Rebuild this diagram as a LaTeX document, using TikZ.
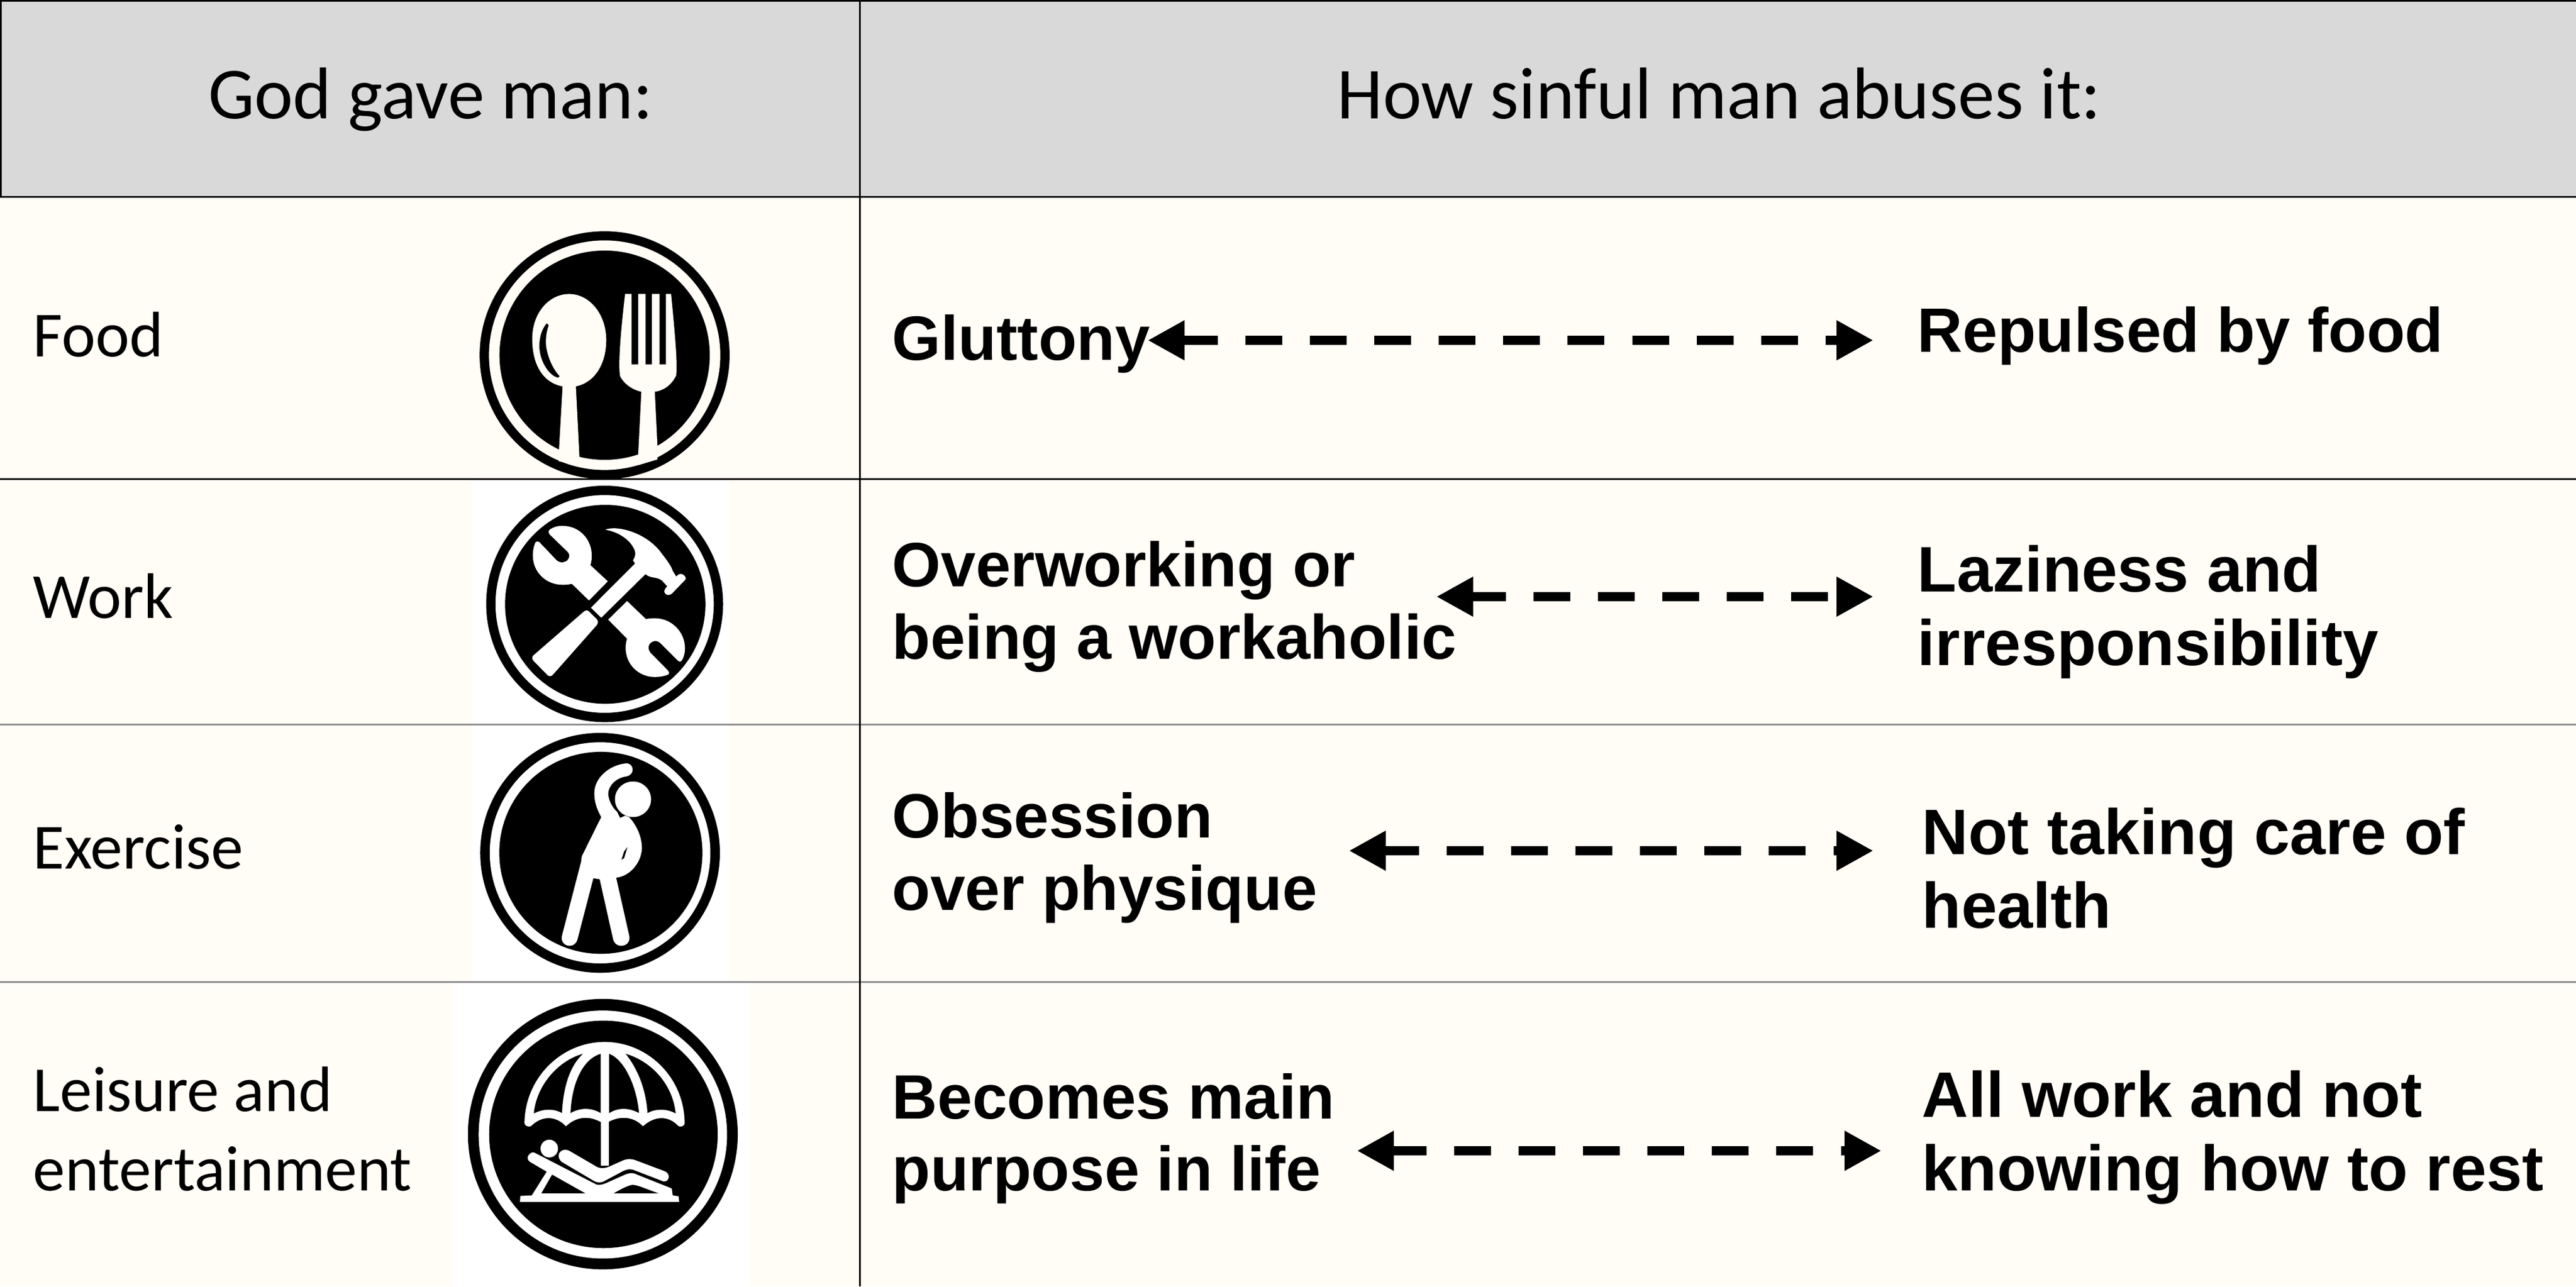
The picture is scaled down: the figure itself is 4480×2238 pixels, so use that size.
\documentclass[tikz,border=0pt]{standalone}
\usepackage{fontspec}
\setmainfont{Carlito}
\newfontfamily\boldarial[BoldFont={Liberation Sans Bold}]{Liberation Sans}
\usetikzlibrary{arrows.meta}
\definecolor{cream}{HTML}{FFFDF6}
\definecolor{headgray}{HTML}{D9D9D9}
\definecolor{rulegray}{HTML}{8C8C8C}
\tikzset{
  headtext/.style={anchor=base,inner sep=0pt,font=\fontsize{36.3}{44}\selectfont,text=black},
  rowtext/.style={anchor=base west,inner sep=0pt,font=\fontsize{31.8}{38}\selectfont,text=black},
  abusetext/.style={anchor=base west,inner sep=0pt,font=\boldarial\bfseries\fontsize{31}{36}\selectfont,text=black},
  abusewide/.style={anchor=base west,inner sep=0pt,font=\boldarial\bfseries\fontsize{31.8}{36}\selectfont,text=black},
  dblarrow/.style={line width=0.165cm,dash pattern=on 0.64cm off 0.48cm,
    {Triangle[length=0.64cm,width=0.65cm]}-{Triangle[length=0.64cm,width=0.65cm]}},
}
\begin{document}
\begin{tikzpicture}[x=0.01cm,y=-0.01cm]
\useasboundingbox (0,0) rectangle (4480,2238);
% backgrounds
\fill[cream] (0,0) rectangle (4480,2238);
\fill[headgray] (0,0) rectangle (4480,342);
\fill[white] (821,836) rectangle (1268,1707);
\fill[white] (786,1709) rectangle (1303,2238);
% rules
\draw[black,line width=0.03cm] (0,1) -- (4480,1);
\draw[black,line width=0.03cm] (1,0) -- (1,342);
\draw[black,line width=0.03cm] (0,342) -- (4480,342);
\draw[black,line width=0.03cm] (0,833) -- (4480,833);
\draw[rulegray,line width=0.03cm] (0,1260) -- (4480,1260);
\draw[rulegray,line width=0.03cm] (0,1708) -- (4480,1708);
\draw[black,line width=0.03cm] (1495,0) -- (1495,2238);
% header
\node[headtext] (h1) at (749,206) {God gave man:};
\node[headtext] (h2) at (2990,206) {How sinful man abuses it:};
% rows
\node[rowtext] (r1) at (57,620) {Food};
\node[rowtext] (r2) at (57,1075) {Work};
\node[rowtext] (r3) at (57,1511) {Exercise};
\node[rowtext] (r4a) at (57,1933) {Leisure and};
\node[rowtext] (r4b) at (57,2071) {entertainment};
% abuses
\node[abusetext] (a1) at (1551,626) {Gluttony};
\node[abusetext] (b1) at (3334,612) {Repulsed by food};
\node[abusetext] (a2a) at (1551,1020) {Overworking or};
\node[abusetext] (a2b) at (1551,1146) {being a workaholic};
\node[abusewide] (b2a) at (3334,1029) {Laziness and};
\node[abusewide] (b2b) at (3334,1157) {irresponsibility};
\node[abusetext] (a3a) at (1551,1457) {Obsession};
\node[abusetext] (a3b) at (1551,1583) {over physique};
\node[abusewide] (b3a) at (3342,1486) {Not taking care of};
\node[abusewide] (b3b) at (3342,1614) {health};
\node[abusetext] (a4a) at (1551,1946) {Becomes main};
\node[abusetext] (a4b) at (1551,2071) {purpose in life};
\node[abusewide] (b4a) at (3342,1943) {All work and not};
\node[abusewide] (b4b) at (3342,2071) {knowing how to rest};
% arrows
\coordinate (l1) at (1996,592); \coordinate (t1) at (3258,592);
\coordinate (l2) at (2498,1038); \coordinate (t2) at (3258,1038);
\coordinate (l3) at (2346,1480); \coordinate (t3) at (3258,1480);
\coordinate (l4) at (2360,2002); \coordinate (t4) at (3272,2002);
\draw[dblarrow,dash phase=0.02cm] (l1) -- (t1);
\draw[dblarrow,dash phase=0.03cm] (l2) -- (t2);
\draw[dblarrow,dash phase=0.02cm] (l3) -- (t3);
\draw[dblarrow,dash phase=0.03cm] (l4) -- (t4);
% food icon
\begin{scope}[shift={(780,370)},x=0.003444cm,y=-0.003333cm]
\begin{scope}
\clip (0,0) rectangle (1568,1387);
\fill[black] (787,745) ellipse [x radius=630,y radius=648];
\end{scope}
\fill[cream] (787,745) ellipse [x radius=583,y radius=600];
\fill[black] (787,745) ellipse [x radius=530,y radius=547];
\fill[cream] (575,908) .. controls (480,890) and (422,800) .. (422,660) .. controls (422,520) and (510,425) .. (608,425) .. controls (710,425) and (795,530) .. (795,665) .. controls (795,800) and (730,890) .. (642,908) -- (660,1278) -- (660,1320) -- (557,1300) -- (557,1238) -- cycle;
\fill[black] (495,578) .. controls (470,610) and (458,650) .. (458,700) .. controls (460,780) and (510,855) .. (553,862) -- (560,855) .. controls (520,810) and (500,750) .. (492,700) .. controls (488,650) and (495,620) .. (505,588) -- cycle;
\fill[cream] (890,425) -- (923,425) -- (923,793) -- (956,793) -- (956,425) -- (993,425) -- (993,793) -- (1025,793) -- (1025,425) -- (1063,425) -- (1063,793) -- (1096,793) -- (1096,425) -- (1122,425) .. controls (1140,620) and (1155,780) .. (1148,850) .. controls (1125,900) and (1085,930) .. (1040,936) -- (1053,1218) -- (1053,1290) -- (956,1320) -- (956,1265) -- (972,936) .. controls (925,925) and (885,895) .. (865,855) .. controls (855,800) and (865,650) .. (890,425) -- cycle;
\end{scope}
% work icon
\begin{scope}[shift={(780,820)},x=0.003444cm,y=-0.003333cm]
\fill[black] (787,693) ellipse [x radius=597,y radius=618];
\fill[white] (787,693) ellipse [x radius=550,y radius=569];
\fill[black] (790,695) ellipse [x radius=505,y radius=520];
\fill[white] (510,305) .. controls (530,290) and (550,285) .. (575,285) .. controls (660,285) and (722,355) .. (722,440) .. controls (722,460) and (720,475) .. (715,490) -- (803,575) -- (708,675) -- (622,588) .. controls (605,592) and (590,593) .. (575,593) .. controls (490,593) and (425,525) .. (425,440) .. controls (425,415) and (430,390) .. (438,372) .. controls (445,365) and (452,365) .. (458,370) -- (545,465) .. controls (565,482) and (590,478) .. (603,460) .. controls (612,445) and (610,430) .. (600,420) -- (510,330) .. controls (503,320) and (503,312) .. (510,305) -- cycle;
\fill[white] (900,678) -- (995,772) .. controls (1010,769) and (1025,768) .. (1040,768) .. controls (1125,768) and (1192,840) .. (1192,925) .. controls (1192,950) and (1185,975) .. (1175,990) .. controls (1168,997) and (1162,995) .. (1155,988) -- (1068,898) .. controls (1050,880) and (1025,885) .. (1012,905) .. controls (1005,920) and (1008,935) .. (1018,948) -- (1105,1040) .. controls (1113,1050) and (1115,1058) .. (1108,1062) .. controls (1085,1072) and (1060,1075) .. (1040,1075) .. controls (955,1075) and (893,1005) .. (893,925) .. controls (893,905) and (895,890) .. (900,875) -- (805,775) -- cycle;
\fill[white] (790,305) .. controls (850,280) and (1000,320) .. (1075,430) .. controls (1105,470) and (1125,500) .. (1130,520) -- (1148,550) -- (1160,538) .. controls (1175,530) and (1200,545) .. (1195,565) -- (1125,640) .. controls (1105,655) and (1080,640) .. (1090,618) -- (1102,600) -- (1075,570) .. controls (1050,550) and (1015,560) .. (993,537) -- (770,765) -- (718,713) -- (940,482) -- (930,465) .. controls (945,440) and (945,420) .. (930,395) .. controls (905,350) and (850,315) .. (790,305) -- cycle;
\fill[white] (680,735) .. controls (690,725) and (700,725) .. (708,732) -- (745,770) .. controls (755,780) and (755,792) .. (748,803) -- (527,1062) .. controls (518,1073) and (508,1073) .. (500,1066) -- (428,990) .. controls (420,980) and (420,970) .. (428,962) -- cycle;
\end{scope}
% exercise icon
\begin{scope}[shift={(780,1260)},x=0.003444cm,y=-0.003333cm]
\fill[black] (764,672) ellipse [x radius=604,y radius=627];
\fill[white] (764,672) ellipse [x radius=556,y radius=578];
\fill[black] (768,672) ellipse [x radius=512,y radius=528];
\fill[white] (930,392) ellipse [x radius=91,y radius=93];
\fill[white] (770,485) .. controls (745,440) and (735,400) .. (735,360) .. controls (735,280) and (810,215) .. (890,205) .. controls (915,200) and (930,220) .. (928,240) .. controls (925,262) and (910,270) .. (895,273) .. controls (845,280) and (805,320) .. (805,365) .. controls (808,400) and (825,435) .. (850,458) -- (865,490) -- (890,478) -- (910,485) .. controls (950,530) and (975,590) .. (975,650) .. controls (970,730) and (910,795) .. (845,802) -- (912,1110) .. controls (915,1140) and (895,1158) .. (870,1158) .. controls (850,1158) and (835,1145) .. (830,1125) -- (762,810) -- (730,805) -- (650,1125) .. controls (645,1145) and (630,1158) .. (610,1158) .. controls (585,1158) and (565,1135) .. (572,1105) -- (668,720) -- (672,690) -- cycle;
\fill[black] (902,642) -- (885,665) -- (872,708) -- (885,700) -- cycle;
\end{scope}
% leisure icon
\begin{scope}[shift={(780,1700)},x=0.003444cm,y=-0.003432cm]
\fill[black] (778,795) ellipse [x radius=680,y radius=685];
\fill[white] (778,797) ellipse [x radius=626,y radius=628];
\fill[black] (781,796) ellipse [x radius=576,y radius=576];
\fill[white] (383,740) .. controls (385,510) and (570,328) .. (787,328) .. controls (1005,328) and (1190,510) .. (1190,740) .. controls (1190,752) and (1175,760) .. (1160,755) .. controls (1110,700) and (1040,700) .. (980,755) .. controls (930,700) and (850,700) .. (787,745) .. controls (720,700) and (650,700) .. (592,755) .. controls (540,700) and (470,700) .. (415,755) .. controls (400,760) and (385,752) .. (383,740) -- cycle;
\fill[black] (430,690) .. controls (445,540) and (560,420) .. (678,388) .. controls (610,450) and (578,560) .. (572,688) .. controls (530,665) and (480,665) .. (430,690) -- cycle;
\fill[black] (615,688) .. controls (620,560) and (665,420) .. (767,388) -- (767,688) .. controls (720,660) and (665,660) .. (615,688) -- cycle;
\fill[black] (810,388) .. controls (890,420) and (950,560) .. (960,688) .. controls (910,660) and (855,660) .. (810,688) -- cycle;
\fill[black] (893,388) .. controls (1020,425) and (1130,540) .. (1145,690) .. controls (1100,665) and (1045,665) .. (1003,688) .. controls (995,560) and (950,460) .. (893,388) -- cycle;
\fill[white] (767,730) rectangle (810,955);
\fill[white] (508,868) ellipse [x radius=44,y radius=45];
\fill[white] (555,905) .. controls (555,880) and (585,865) .. (610,880) -- (750,962) .. controls (775,972) and (800,965) .. (820,955) -- (880,928) .. controls (905,918) and (925,920) .. (945,928) -- (1090,983) .. controls (1120,995) and (1115,1035) .. (1085,1035) -- (930,975) .. controls (910,970) and (895,975) .. (880,982) -- (790,1030) .. controls (765,1045) and (745,1040) .. (730,1030) -- (570,935) .. controls (560,925) and (555,915) .. (555,905) -- cycle;
\fill[white] (410,895) .. controls (420,885) and (430,885) .. (445,895) -- (745,1050) .. controls (760,1055) and (775,1050) .. (790,1045) -- (890,1000) .. controls (915,990) and (935,990) .. (950,1000) -- (1125,1070) -- (1130,1105) -- (1160,1110) -- (1162,1138) -- (360,1138) -- (362,1108) -- (420,1105) -- (495,985) -- (410,935) .. controls (395,925) and (395,905) .. (410,895) -- cycle;
\fill[black] (522,1000) -- (690,1095) -- (468,1095) -- cycle;
\fill[black] (832,1095) .. controls (860,1080) and (890,1060) .. (925,1052) .. controls (950,1050) and (1000,1075) .. (1060,1095) -- cycle;
\end{scope}
\end{tikzpicture}
\end{document}
